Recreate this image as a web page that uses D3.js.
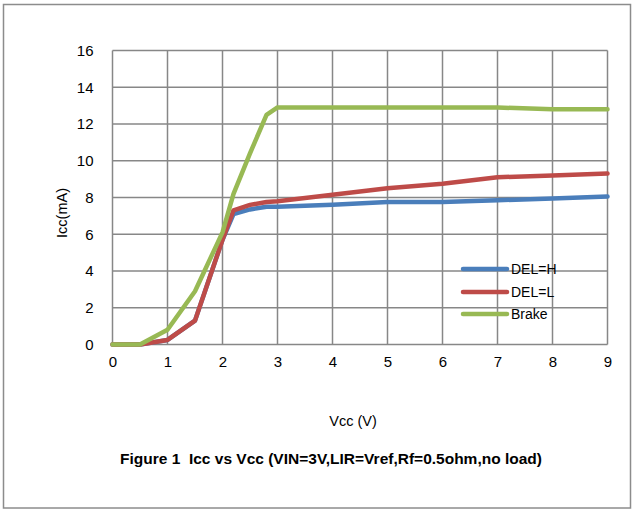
<!DOCTYPE html>
<html><head><meta charset="utf-8">
<script src="https://cdn.jsdelivr.net/npm/d3@7"></script>
<style>body{margin:0;background:#fff;} text{font-family:"Liberation Sans",Arial,sans-serif;white-space:pre;}</style>
</head><body>
<svg id="c" width="632" height="510"></svg>
<script>
const vcc = [0,0.5,1,1.5,2,2.2,2.5,2.8,3,4,5,6,7,8,9];
const delH = [0,0,0.25,1.3,5.7,7.1,7.35,7.5,7.5,7.6,7.75,7.75,7.85,7.95,8.05];
const delL = [0,0,0.25,1.3,5.7,7.3,7.6,7.75,7.8,8.15,8.5,8.75,9.1,9.2,9.3];
const brake = [0,0,0.8,2.9,6.1,8.2,10.4,12.5,12.9,12.9,12.9,12.9,12.9,12.8,12.8];
const seriesNames = ["DEL=H","DEL=L","Brake"];
const seriesColors = ["#4a7ebb","#be4b48","#98b954"];
const xTicks = [0,1,2,3,4,5,6,7,8,9];
const yTicks = [0,2,4,6,8,10,12,14,16];

const svg = d3.select("#c");
svg.append("rect").attr("x",3.5).attr("y",4.5).attr("width",627).attr("height",503.5)
  .attr("fill","#fff").attr("stroke","#8c8c8c").attr("stroke-width",1.5);

const x = d3.scaleLinear().domain([0,9]).range([112.5,607.5]);
const y = d3.scaleLinear().domain([0,16]).range([344.5,50.5]);

const grid = svg.append("g").attr("stroke","#878787").attr("stroke-width",1.5);
xTicks.forEach(t=>grid.append("line").attr("x1",x(t)).attr("x2",x(t)).attr("y1",y(0)).attr("y2",y(16)));
yTicks.forEach(t=>grid.append("line").attr("x1",x(0)).attr("x2",x(9)).attr("y1",y(t)).attr("y2",y(t)));

const xAxis = d3.axisBottom(x).tickValues(xTicks).tickSize(0).tickPadding(12).tickFormat(d3.format("d"));
const gx = svg.append("g").attr("transform",`translate(0,${y(0)})`).call(xAxis);
gx.select(".domain").remove();
gx.selectAll("text").attr("font-size",15).attr("fill","#000").attr("font-family","Liberation Sans, Arial, sans-serif");

const yAxis = d3.axisLeft(y).tickValues(yTicks).tickSize(0).tickPadding(19).tickFormat(d3.format("d"));
const gy = svg.append("g").attr("transform",`translate(${x(0)},0)`).call(yAxis);
gy.select(".domain").remove();
gy.selectAll("text").attr("font-size",15).attr("fill","#000").attr("font-family","Liberation Sans, Arial, sans-serif");

const all = [delH, delL, brake];
const line = d3.line().x((d,i)=>x(vcc[i])).y(d=>y(d));
all.forEach((s,k)=>{
  svg.append("path").datum(s).attr("d",line).attr("fill","none")
    .attr("stroke",seriesColors[k]).attr("stroke-width",4.5)
    .attr("stroke-linejoin","round").attr("stroke-linecap","round");
});

const legY = [269,292,314];
seriesNames.forEach((n,k)=>{
  svg.append("line").attr("x1",463).attr("x2",507).attr("y1",legY[k]).attr("y2",legY[k])
    .attr("stroke",seriesColors[k]).attr("stroke-width",4.5).attr("stroke-linecap","round");
  svg.append("text").attr("x",511).attr("y",legY[k]+5).attr("font-size",14).text(n);
});

svg.append("text").attr("x",353).attr("y",426).attr("text-anchor","middle").attr("font-size",14.5).text("Vcc (V)");
svg.append("text").attr("transform","translate(67,213) rotate(-90)").attr("text-anchor","middle").attr("font-size",14.5).text("Icc(mA)");
svg.append("text").attr("x",331).attr("y",464).attr("text-anchor","middle").attr("font-size",15.5).attr("font-weight","bold")
  .text("Figure 1  Icc vs Vcc (VIN=3V,LIR=Vref,Rf=0.5ohm,no load)");
</script>
</body></html>
